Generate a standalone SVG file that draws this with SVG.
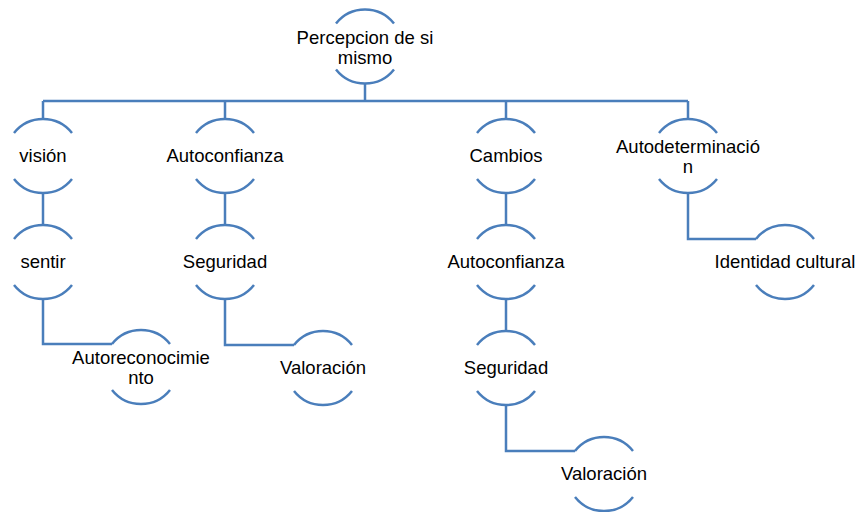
<svg xmlns="http://www.w3.org/2000/svg" xmlns:xlink="http://www.w3.org/1999/xlink" width="860" height="512" viewBox="0 0 860 512">
<style>
.arc{fill:none;stroke:#4A7EBB;stroke-width:2.5}
.con{fill:none;stroke:#4A7EBB;stroke-width:2.5}
text{font-family:"Liberation Sans",Arial,sans-serif;font-size:18.5px;fill:#000;text-anchor:middle}
</style>
<defs>
<g id="ring">
<path class="arc" d="M-29,-23 A37,37 0 0 1 29,-23"/>
<path class="arc" d="M-29,23 A37,37 0 0 0 29,23"/>
</g>
</defs>
<rect width="860" height="512" fill="#fff"/>
<g id="connectors">
<path class="con" d="M365,83.5 V101"/>
<path class="con" d="M43,101 H688"/>
<path class="con" d="M43,101 V119 M225,101 V119 M506,101 V119 M688,101 V119"/>
<path class="con" d="M43,193 V225"/>
<path class="con" d="M43,299 V344 H112"/>
<path class="con" d="M225,193 V225"/>
<path class="con" d="M225,299 V345 H294"/>
<path class="con" d="M506,193 V225"/>
<path class="con" d="M506,299 V331"/>
<path class="con" d="M506,405 V451 H575"/>
<path class="con" d="M688,193 V239 H756"/>
</g>
<g id="n-root" transform="translate(365,46.5)"><use xlink:href="#ring"/><text y="-3">Percepcion de si</text><text y="17">mismo</text></g>
<g id="n-vision" transform="translate(43,156)"><use xlink:href="#ring"/><text y="6">visión</text></g>
<g id="n-sentir" transform="translate(43,262)"><use xlink:href="#ring"/><text y="6">sentir</text></g>
<g id="n-autorec" transform="translate(141,367)"><use xlink:href="#ring"/><text y="-3">Autoreconocimie</text><text y="17">nto</text></g>
<g id="n-autoconf1" transform="translate(225,156)"><use xlink:href="#ring"/><text y="6">Autoconfianza</text></g>
<g id="n-seg1" transform="translate(225,262)"><use xlink:href="#ring"/><text y="6">Seguridad</text></g>
<g id="n-val1" transform="translate(323,368)"><use xlink:href="#ring"/><text y="6">Valoración</text></g>
<g id="n-cambios" transform="translate(506,156)"><use xlink:href="#ring"/><text y="6">Cambios</text></g>
<g id="n-autoconf2" transform="translate(506,262)"><use xlink:href="#ring"/><text y="6">Autoconfianza</text></g>
<g id="n-seg2" transform="translate(506,368)"><use xlink:href="#ring"/><text y="6">Seguridad</text></g>
<g id="n-val2" transform="translate(604,474)"><use xlink:href="#ring"/><text y="6">Valoración</text></g>
<g id="n-autodet" transform="translate(688,156)"><use xlink:href="#ring"/><text y="-3">Autodeterminació</text><text y="17">n</text></g>
<g id="n-identidad" transform="translate(785,262)"><use xlink:href="#ring"/><text y="6">Identidad cultural</text></g>
</svg>
